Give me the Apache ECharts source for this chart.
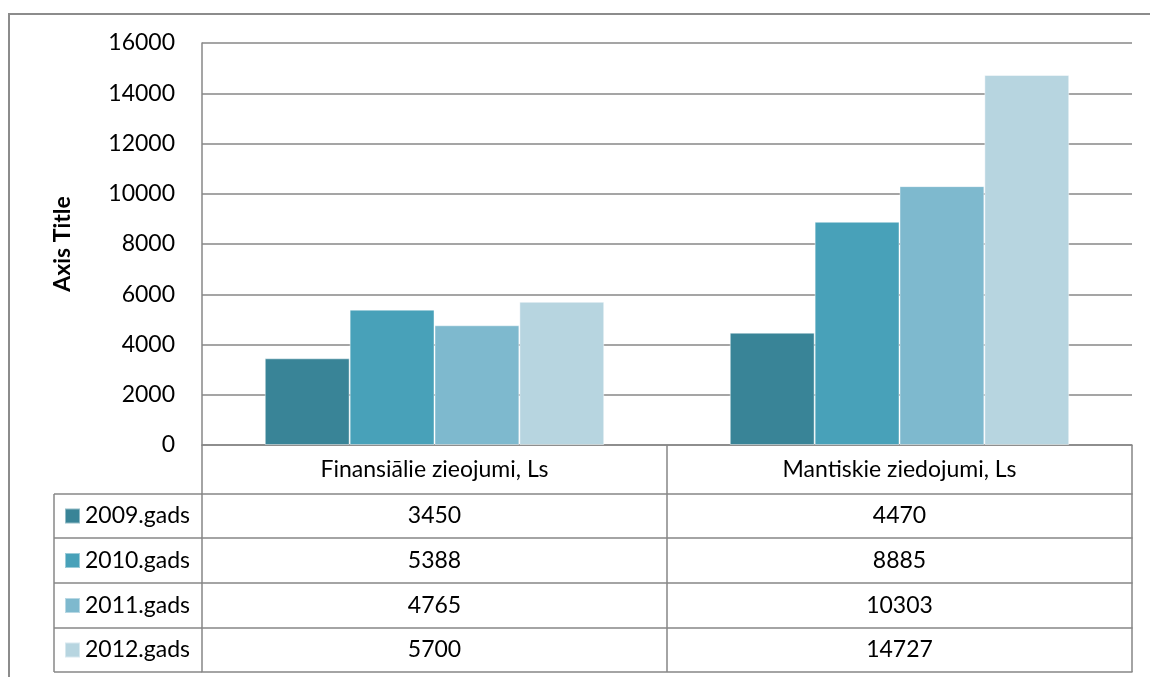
<!DOCTYPE html>
<html>
<head>
<meta charset="utf-8">
<script src="https://cdn.jsdelivr.net/npm/echarts@6/dist/echarts.min.js"></script>
<style>
  html, body { margin: 0; padding: 0; background: #ffffff; }
  #chart { width: 1150px; height: 677px; }
</style>
</head>
<body>
<div id="chart"></div>
<script>
// Categories and yearly donation values (Ls)
const categories = ['Finansiālie zieojumi, Ls', 'Mantiskie ziedojumi, Ls'];
const years = ['2009.gads', '2010.gads', '2011.gads', '2012.gads'];
const values2009 = [3450, 4470];
const values2010 = [5388, 8885];
const values2011 = [4765, 10303];
const values2012 = [5700, 14727];
const yTicks = { min: 0, max: 16000, interval: 2000 };

const seriesValues = [values2009, values2010, values2011, values2012];
const colors = ['#398497', '#48a1b9', '#7eb9ce', '#b7d5e0'];

const FONT = 'Lato';
const LINE = '#878787';
const FS = 23;

// Layout of the plot area and the data table below it
const gridLeft = 202, gridRight = 18, gridTop = 43, gridBottom = 232;
const rowEdges = [0, 49, 93, 138, 183, 227]; // offsets below the zero line
const zeroY = 677 - gridBottom;
const legendLeftX = 54;

const xAxes = [];
// header row with category names
xAxes.push({
  type: 'category', data: categories, gridIndex: 0, position: 'bottom',
  axisLine: { show: true, lineStyle: { color: LINE, width: 1.5 } },
  axisTick: { show: true, length: rowEdges[1], lineStyle: { color: LINE, width: 1.5 } },
  axisLabel: { margin: rowEdges[1] / 2, verticalAlign: 'middle', color: '#000', fontFamily: FONT, fontSize: FS }
});
// one row per year with its values
seriesValues.forEach((vals, i) => {
  const h = rowEdges[i + 2] - rowEdges[i + 1];
  xAxes.push({
    type: 'category', data: categories, gridIndex: 0, position: 'bottom', offset: rowEdges[i + 1],
    axisLine: { show: true, lineStyle: { color: LINE, width: 1.5 } },
    axisTick: { show: true, length: h, lineStyle: { color: LINE, width: 1.5 } },
    axisLabel: {
      margin: h / 2, verticalAlign: 'middle', color: '#000', fontFamily: FONT, fontSize: FS,
      formatter: (v, idx) => String(vals[idx])
    }
  });
});
// closing line of the table
xAxes.push({
  type: 'category', data: categories, gridIndex: 0, position: 'bottom', offset: rowEdges[5],
  axisLine: { show: true, lineStyle: { color: LINE, width: 1.5 } },
  axisTick: { show: false }, axisLabel: { show: false }
});

// legend column borders
const legendLines = [];
for (let i = 1; i < rowEdges.length; i++) {
  legendLines.push({
    type: 'line',
    shape: { x1: legendLeftX, y1: zeroY + rowEdges[i], x2: gridLeft, y2: zeroY + rowEdges[i] },
    style: { stroke: LINE, lineWidth: 1.5 }
  });
}
legendLines.push({
  type: 'line',
  shape: { x1: legendLeftX, y1: zeroY + rowEdges[1], x2: legendLeftX, y2: zeroY + rowEdges[5] },
  style: { stroke: LINE, lineWidth: 1.5 }
});

// one legend key per table row, centred in its row
const legends = years.map((name, i) => {
  const mid = zeroY + (rowEdges[i + 1] + rowEdges[i + 2]) / 2;
  return {
    data: [name], orient: 'horizontal', left: 64, top: mid - 12, padding: 0,
    itemWidth: 15, itemHeight: 15, itemGap: 0, icon: 'rect',
    textStyle: { color: '#000', fontFamily: FONT, fontSize: FS, lineHeight: 24 },
    selectedMode: false
  };
});

const chart = echarts.init(document.getElementById('chart'), null, { renderer: 'canvas' });
chart.setOption({
  backgroundColor: '#ffffff',
  animation: false,
  color: colors,
  textStyle: { fontFamily: FONT },
  grid: { left: gridLeft, right: gridRight, top: gridTop, bottom: gridBottom, containLabel: false },
  legend: legends,
  xAxis: xAxes,
  yAxis: {
    type: 'value', min: yTicks.min, max: yTicks.max, interval: yTicks.interval,
    name: 'Axis Title', nameLocation: 'middle', nameGap: 128, nameRotate: 90,
    nameTextStyle: { color: '#000', fontFamily: FONT, fontSize: 23, fontWeight: 'bold' },
    axisLine: { show: true, lineStyle: { color: LINE, width: 1.5 } },
    axisTick: { show: false },
    axisLabel: { margin: 27, color: '#000', fontFamily: FONT, fontSize: FS, formatter: v => String(v) },
    splitLine: { show: true, lineStyle: { color: LINE, width: 1.5 } }
  },
  series: years.map((name, i) => ({
    name, type: 'bar', data: seriesValues[i],
    barGap: '0%', barCategoryGap: '27%',
    itemStyle: { color: colors[i], borderColor: 'rgba(255,255,255,0.45)', borderWidth: 1 }
  })),
  graphic: [
    {
      type: 'rect', silent: true, z: -1,
      shape: { x: 9, y: 14, width: 1200, height: 720 },
      style: { fill: 'none', stroke: '#8c8c8c', lineWidth: 2 }
    }
  ].concat(legendLines)
});
</script>
</body>
</html>
